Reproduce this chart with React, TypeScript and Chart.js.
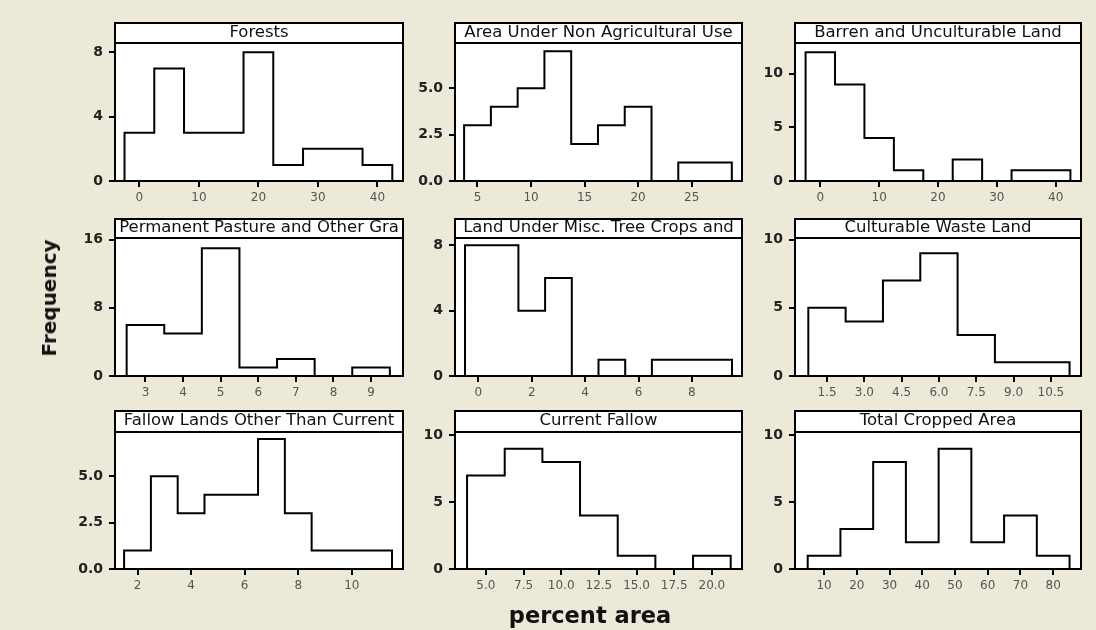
import React, { useEffect, useRef } from "react";
import { Chart, registerables } from "chart.js";
Chart.register(...registerables);

// ---------- data ----------
const panelTitles = [
  "Forests",
  "Area Under Non Agricultural Use",
  "Barren and Unculturable Land",
  "Permanent Pasture and Other Gra",
  "Land Under Misc. Tree Crops and",
  "Culturable Waste Land",
  "Fallow Lands Other Than Current",
  "Current Fallow",
  "Total Cropped Area",
];

const forestsBins = [0, 5, 10, 15, 20, 25, 30, 35, 40];
const forestsCounts = [3, 7, 3, 3, 8, 1, 2, 2, 1];
const forestsXTicks = [0, 10, 20, 30, 40];
const forestsYTicks = [0, 4, 8];

const nonAgriBins = [5, 7.5, 10, 12.5, 15, 17.5, 20, 22.5, 25, 27.5];
const nonAgriCounts = [3, 4, 5, 7, 2, 3, 4, 0, 1, 1];
const nonAgriXTicks = [5, 10, 15, 20, 25];
const nonAgriYTicks = [0, 2.5, 5];

const barrenBins = [0, 5, 10, 15, 20, 25, 30, 35, 40];
const barrenCounts = [12, 9, 4, 1, 0, 2, 0, 1, 1];
const barrenXTicks = [0, 10, 20, 30, 40];
const barrenYTicks = [0, 5, 10];

const pastureBins = [3, 4, 5, 6, 7, 8, 9];
const pastureCounts = [6, 5, 15, 1, 2, 0, 1];
const pastureXTicks = [3, 4, 5, 6, 7, 8, 9];
const pastureYTicks = [0, 8, 16];

const treeCropBins = [0, 1, 2, 3, 4, 5, 6, 7, 8, 9];
const treeCropCounts = [8, 8, 4, 6, 0, 1, 0, 1, 1, 1];
const treeCropXTicks = [0, 2, 4, 6, 8];
const treeCropYTicks = [0, 4, 8];

const wasteBins = [1.5, 3, 4.5, 6, 7.5, 9, 10.5];
const wasteCounts = [5, 4, 7, 9, 3, 1, 1];
const wasteXTicks = [1.5, 3, 4.5, 6, 7.5, 9, 10.5];
const wasteYTicks = [0, 5, 10];

const fallowOtherBins = [2, 3, 4, 5, 6, 7, 8, 9, 10, 11];
const fallowOtherCounts = [1, 5, 3, 4, 4, 7, 3, 1, 1, 1];
const fallowOtherXTicks = [2, 4, 6, 8, 10];
const fallowOtherYTicks = [0, 2.5, 5];

const currentFallowBins = [5, 7.5, 10, 12.5, 15, 17.5, 20];
const currentFallowCounts = [7, 9, 8, 4, 1, 0, 1];
const currentFallowXTicks = [5, 7.5, 10, 12.5, 15, 17.5, 20];
const currentFallowYTicks = [0, 5, 10];

const croppedBins = [10, 20, 30, 40, 50, 60, 70, 80];
const croppedCounts = [1, 3, 8, 2, 9, 2, 4, 1];
const croppedXTicks = [10, 20, 30, 40, 50, 60, 70, 80];
const croppedYTicks = [0, 5, 10];

const xAxisTitle = "percent area";
const yAxisTitle = "Frequency";

type PanelDef = {
  title: string;
  bins: number[];
  counts: number[];
  xTicks: number[];
  yTicks: number[];
  xDec: number;
  yDec: number;
  xMin: number;
  xMax: number;
  yMax: number;
};

const panels: PanelDef[] = [
  { title: panelTitles[0], bins: forestsBins, counts: forestsCounts, xTicks: forestsXTicks, yTicks: forestsYTicks, xDec: 0, yDec: 0, xMin: -4.1, xMax: 44.3, yMax: 8.58 },
  { title: panelTitles[1], bins: nonAgriBins, counts: nonAgriCounts, xTicks: nonAgriXTicks, yTicks: nonAgriYTicks, xDec: 0, yDec: 1, xMin: 2.9, xMax: 29.7, yMax: 7.44 },
  { title: panelTitles[2], bins: barrenBins, counts: barrenCounts, xTicks: barrenXTicks, yTicks: barrenYTicks, xDec: 0, yDec: 0, xMin: -4.3, xMax: 44.3, yMax: 12.87 },
  { title: panelTitles[3], bins: pastureBins, counts: pastureCounts, xTicks: pastureXTicks, yTicks: pastureYTicks, xDec: 0, yDec: 0, xMin: 2.19, xMax: 9.85, yMax: 16.2 },
  { title: panelTitles[4], bins: treeCropBins, counts: treeCropCounts, xTicks: treeCropXTicks, yTicks: treeCropYTicks, xDec: 0, yDec: 0, xMin: -0.875, xMax: 9.875, yMax: 8.45 },
  { title: panelTitles[5], bins: wasteBins, counts: wasteCounts, xTicks: wasteXTicks, yTicks: wasteYTicks, xDec: 1, yDec: 0, xMin: 0.215, xMax: 11.71, yMax: 10.12 },
  { title: panelTitles[6], bins: fallowOtherBins, counts: fallowOtherCounts, xTicks: fallowOtherXTicks, yTicks: fallowOtherYTicks, xDec: 0, yDec: 1, xMin: 1.16, xMax: 11.91, yMax: 7.38 },
  { title: panelTitles[7], bins: currentFallowBins, counts: currentFallowCounts, xTicks: currentFallowXTicks, yTicks: currentFallowYTicks, xDec: 1, yDec: 0, xMin: 2.95, xMax: 22.0, yMax: 10.25 },
  { title: panelTitles[8], bins: croppedBins, counts: croppedCounts, xTicks: croppedXTicks, yTicks: croppedYTicks, xDec: 0, yDec: 0, xMin: 1.12, xMax: 88.5, yMax: 10.25 },
];

// ---------- layout (pixels) ----------
const colLeft = [115, 455, 795];
const colRight = [403, 742, 1081];
const rowHeaderTop = [22, 218, 410];
const rowPlotTop = [43, 238, 432];
const rowPlotBottom = [181, 376, 569];
const Y_AXIS_W = 62;
const X_AXIS_H = 30;
const PAD_TOP = 2;
const PAD_RIGHT = 4;
const FONT = "'DejaVu Sans', Verdana, sans-serif";

function outline(bins: number[], counts: number[]) {
  const w = bins[1] - bins[0];
  const pts: { x: number; y: number }[] = [{ x: bins[0] - w / 2, y: 0 }];
  bins.forEach((c, i) => pts.push({ x: c - w / 2, y: counts[i] }));
  pts.push({ x: bins[bins.length - 1] + w / 2, y: 0 });
  return pts;
}

const framePlugin = {
  id: "panelFrame",
  beforeDraw(chart: any) {
    const { ctx, chartArea } = chart;
    ctx.save();
    ctx.fillStyle = "#ffffff";
    ctx.fillRect(chartArea.left, PAD_TOP, chartArea.right - chartArea.left, chartArea.bottom - PAD_TOP);
    ctx.restore();
  },
  afterDraw(chart: any) {
    const { ctx, chartArea } = chart;
    ctx.save();
    ctx.strokeStyle = "#000";
    ctx.lineWidth = 2;
    ctx.strokeRect(chartArea.left, PAD_TOP + 1, chartArea.right - chartArea.left, chartArea.bottom - PAD_TOP - 1);
    ctx.beginPath();
    ctx.moveTo(chartArea.left, chartArea.top);
    ctx.lineTo(chartArea.right, chartArea.top);
    ctx.stroke();
    ctx.restore();
  },
};

function Panel({ def, index }: { def: PanelDef; index: number }) {
  const ref = useRef<HTMLCanvasElement>(null);
  const col = index % 3;
  const row = Math.floor(index / 3);
  const left = colLeft[col] - Y_AXIS_W;
  const top = rowHeaderTop[row] - PAD_TOP;
  const width = colRight[col] - colLeft[col] + Y_AXIS_W + PAD_RIGHT;
  const height = rowPlotBottom[row] - rowHeaderTop[row] + PAD_TOP + X_AXIS_H;
  const titleH = rowPlotTop[row] - rowHeaderTop[row];

  useEffect(() => {
    if (!ref.current) return;
    const first = def.bins[0] - (def.bins[1] - def.bins[0]) / 2;
    const last = def.bins[def.bins.length - 1] + (def.bins[1] - def.bins[0]) / 2;
    const chart = new Chart(ref.current, {
      type: "line",
      data: {
        datasets: [
          {
            data: outline(def.bins, def.counts),
            stepped: "before",
            borderColor: "#000",
            borderWidth: 2,
            pointRadius: 0,
            fill: false,
          },
          {
            data: [
              { x: first, y: 0 },
              { x: last, y: 0 },
            ],
            borderColor: "#000",
            borderWidth: 2,
            pointRadius: 0,
            fill: false,
          },
        ],
      },
      options: {
        animation: false,
        responsive: false,
        events: [],
        layout: { padding: { top: PAD_TOP, right: PAD_RIGHT, left: 0, bottom: 0 }, autoPadding: false },
        plugins: {
          legend: { display: false },
          tooltip: { enabled: false },
          title: {
            display: true,
            text: def.title,
            fullSize: false,
            padding: 0,
            color: "#111",
            font: { family: FONT, size: 16.5, weight: "normal", lineHeight: `${titleH}px` },
          },
        },
        scales: {
          x: {
            type: "linear",
            min: def.xMin,
            max: def.xMax,
            afterFit: (s: any) => {
              s.height = X_AXIS_H;
            },
            afterBuildTicks: (s: any) => {
              s.ticks = def.xTicks.map((v) => ({ value: v }));
            },
            ticks: {
              autoSkip: false,
              maxRotation: 0,
              padding: 4,
              color: "#555",
              font: { family: FONT, size: 12 },
              callback: (v: any) => Number(v).toFixed(def.xDec),
            },
            grid: { drawOnChartArea: false, drawTicks: true, tickLength: 6, color: "#000", lineWidth: 2 },
            border: { display: true, color: "#000", width: 2 },
          },
          y: {
            type: "linear",
            min: 0,
            max: def.yMax,
            afterFit: (s: any) => {
              s.width = Y_AXIS_W;
            },
            afterBuildTicks: (s: any) => {
              s.ticks = def.yTicks.map((v) => ({ value: v }));
            },
            ticks: {
              autoSkip: false,
              padding: 6,
              color: "#222",
              font: { family: FONT, size: 14, weight: "bold" },
              callback: (v: any) => Number(v).toFixed(def.yDec),
            },
            grid: { drawOnChartArea: false, drawTicks: true, tickLength: 6, color: "#000", lineWidth: 2 },
            border: { display: true, color: "#000", width: 2 },
          },
        },
      },
      plugins: [framePlugin],
    });
    return () => chart.destroy();
  }, [def]);

  return (
    <canvas
      ref={ref}
      width={width}
      height={height}
      style={{ position: "absolute", left, top, width, height }}
    />
  );
}

export default function App() {
  return (
    <div
      style={{
        position: "absolute",
        left: 0,
        top: 0,
        width: 1096,
        height: 630,
        background: "#ECE9D8",
        overflow: "hidden",
      }}
    >
      {panels.map((p, i) => (
        <Panel key={i} def={p} index={i} />
      ))}
      <div
        style={{
          position: "absolute",
          left: 49,
          top: 298,
          transform: "translate(-50%, -50%) rotate(-90deg)",
          fontFamily: FONT,
          fontWeight: "bold",
          fontSize: 20,
          color: "#111",
          whiteSpace: "nowrap",
        }}
      >
        {yAxisTitle}
      </div>
      <div
        style={{
          position: "absolute",
          left: 590,
          top: 615,
          transform: "translate(-50%, -50%)",
          fontFamily: FONT,
          fontWeight: "bold",
          fontSize: 22.5,
          color: "#111",
          whiteSpace: "nowrap",
        }}
      >
        {xAxisTitle}
      </div>
    </div>
  );
}
